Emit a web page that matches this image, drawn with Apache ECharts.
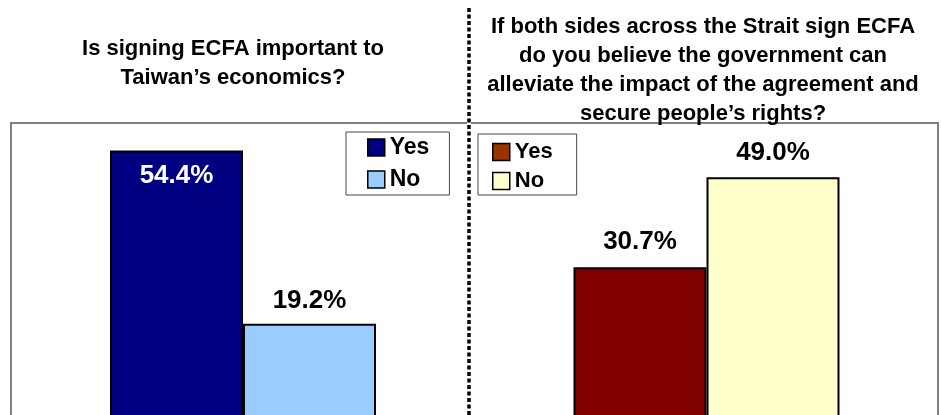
<!DOCTYPE html>
<html>
<head>
<meta charset="utf-8">
<script src="https://cdn.jsdelivr.net/npm/echarts@6/dist/echarts.min.js"></script>
<style>
html,body{margin:0;padding:0;background:#fff;}
#chart{width:941px;height:415px;}
</style>
</head>
<body>
<div id="chart"></div>
<script>
// ---- data ----
const panelTitles = [
  "Is signing ECFA important to\nTaiwan\u2019s economics?",
  "If both sides across the Strait sign ECFA\ndo you believe the government can\nalleviate the impact of the agreement and\nsecure people\u2019s rights?"
];
const categories = ["Important", "Alleviate"];
const legendNames = ["Yes", "No"];
const yesValues = [54.4, 30.7];
const noValues = [19.2, 49.0];

// ---- styles ----
const FONT = "'Liberation Sans', Arial, Helvetica, sans-serif";
const yesColors = ["#000080", "#800000"];
const noColors = ["#99CCFF", "#FFFFCC"];
const yesLegendColors = ["#000080", "#993300"];

const chart = echarts.init(document.getElementById('chart'), null, {renderer: 'canvas'});

const fmt = v => v.value.toFixed(1) + '%';
const series = [];
[0, 1].forEach(i => {
  series.push({
    name: legendNames[0] + '_' + i,
    type: 'bar',
    xAxisIndex: i, yAxisIndex: i,
    data: [yesValues[i]],
    barWidth: 133,
    barGap: '0%',
    itemStyle: {color: yesColors[i], borderColor: '#000', borderWidth: 2},
    label: {
      show: true,
      position: i === 0 ? 'insideTop' : 'top',
      distance: i === 0 ? 12 : 12,
      formatter: fmt,
      color: i === 0 ? '#fff' : '#000',
      fontFamily: FONT, fontWeight: 'bold', fontSize: 26
    },
    emphasis: {disabled: true},
    animation: false
  });
  series.push({
    name: legendNames[1] + '_' + i,
    type: 'bar',
    xAxisIndex: i, yAxisIndex: i,
    data: [noValues[i]],
    barWidth: 133,
    barGap: '0%',
    itemStyle: {color: noColors[i], borderColor: '#000', borderWidth: 2},
    label: {
      show: true, position: 'top', distance: i === 0 ? 10 : 11,
      formatter: fmt, color: '#000',
      fontFamily: FONT, fontWeight: 'bold', fontSize: 26
    },
    emphasis: {disabled: true},
    animation: false
  });
});

const option = {
  backgroundColor: '#fff',
  animation: false,
  title: [
    {text: panelTitles[0], left: 233, top: 34, textAlign: 'center', padding: 0,
     textStyle: {fontFamily: FONT, fontWeight: 'bold', fontSize: 22, lineHeight: 29, color: '#000'}},
    {text: panelTitles[1], left: 703, top: 12, textAlign: 'center', padding: 0,
     textStyle: {fontFamily: FONT, fontWeight: 'bold', fontSize: 22, lineHeight: 29, color: '#000'}}
  ],
  grid: [
    {left: 11, width: 464, top: 123, height: 295.4, show: false, outerBoundsMode: 'none', containLabel: false},
    {left: 475, width: 463, top: 123, height: 295.4, show: false, outerBoundsMode: 'none', containLabel: false},
    {left: 11, width: 927, top: 123, height: 300, show: true, borderColor: '#808080', borderWidth: 2,
     backgroundColor: 'transparent', z: 0, outerBoundsMode: 'none', containLabel: false}
  ],
  xAxis: [
    {type: 'category', gridIndex: 0, data: [categories[0]], show: false},
    {type: 'category', gridIndex: 1, data: [categories[1]], show: false},
    {type: 'value', gridIndex: 2, show: false, min: 0, max: 1}
  ],
  yAxis: [
    {type: 'value', gridIndex: 0, min: 0, max: 60, show: false},
    {type: 'value', gridIndex: 1, min: 0, max: 60, show: false},
    {type: 'value', gridIndex: 2, show: false, min: 0, max: 1}
  ],
  legend: [
    {
      data: [
        {name: legendNames[0] + '_0', itemStyle: {color: yesLegendColors[0]}},
        {name: legendNames[1] + '_0'}
      ],
      orient: 'vertical', left: 346, top: 132,
      padding: [4, 20, 4, 21],
      itemWidth: 17, itemHeight: 17, itemGap: 9, itemTextGap: 6,
      borderColor: '#444', borderWidth: 1, backgroundColor: '#fff',
      icon: 'rect',
      itemStyle: {borderColor: '#000', borderWidth: 1.5},
      formatter: n => n.split('_')[0],
      selectedMode: false,
      textStyle: {fontFamily: FONT, fontWeight: 'bold', fontSize: 23, color: '#000'}
    },
    {
      data: [
        {name: legendNames[0] + '_1', itemStyle: {color: yesLegendColors[1]}},
        {name: legendNames[1] + '_1'}
      ],
      orient: 'vertical', left: 478, top: 134,
      padding: [7, 24, 3, 14],
      itemWidth: 17, itemHeight: 17, itemGap: 7, itemTextGap: 8,
      borderColor: '#444', borderWidth: 1, backgroundColor: '#fff',
      icon: 'rect',
      itemStyle: {borderColor: '#000', borderWidth: 1.5},
      formatter: n => n.split('_')[0],
      selectedMode: false,
      textStyle: {fontFamily: FONT, fontWeight: 'bold', fontSize: 22, color: '#000'}
    }
  ],
  graphic: [
    {type: 'line', z: 100, shape: {x1: 469, y1: 8, x2: 469, y2: 415},
     style: {stroke: '#fff', lineWidth: 4}},
    {type: 'line', z: 101, shape: {x1: 469, y1: 8, x2: 469, y2: 415},
     style: {stroke: '#000', lineWidth: 3.5, lineDash: [4, 2.5]}}
  ],
  series: series
};
chart.setOption(option);
</script>
</body>
</html>
